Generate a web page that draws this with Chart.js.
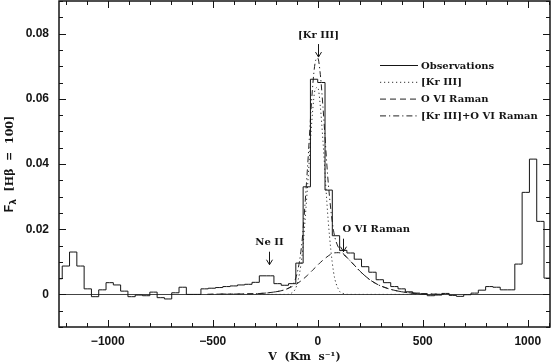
<!DOCTYPE html>
<html><head><meta charset="utf-8">
<script src="https://cdn.jsdelivr.net/npm/chart.js@4.4.0/dist/chart.umd.min.js"></script>
<style>html,body{margin:0;padding:0;background:#fff;overflow:hidden;}</style>
</head><body>
<canvas id="c" width="551" height="364"></canvas>
<script>
// ---------- data ----------
const obsVelocity = [-1268.8,-1234.0,-1199.2,-1164.5,-1129.7,-1094.9,-1060.2,-1025.4,-990.7,-955.9,-921.1,-886.4,-851.6,-816.9,-782.1,-747.3,-712.6,-677.8,-643.1,-608.3,-573.5,-538.8,-504.0,-469.3,-434.5,-399.7,-365.0,-330.2,-295.5,-260.7,-225.9,-191.2,-156.4,-121.7,-86.9,-52.1,-17.4,17.4,52.1,86.9,121.7,156.4,191.2,225.9,260.7,295.5,330.2,365.0,399.7,434.5,469.3,504.0,538.8,573.5,608.3,643.1,677.8,712.6,747.3,782.1,816.9,851.6,886.4,921.1,955.9,990.7,1025.4,1060.2,1094.9,1129.7];
const obsFlux = [0.0048,0.0048,0.0087,0.0130,0.0087,0.0017,-0.0007,0.0014,0.0036,0.0029,0.0010,-0.0007,-0.0002,-0.0004,0.0007,-0.0010,-0.0014,0.0005,0.0022,0.0000,0.0000,0.0017,0.0019,0.0021,0.0024,0.0026,0.0029,0.0031,0.0037,0.0057,0.0057,0.0033,0.0028,0.0033,0.0096,0.0330,0.0660,0.0650,0.0320,0.0180,0.0135,0.0127,0.0108,0.0085,0.0068,0.0045,0.0036,0.0024,0.0017,0.0008,0.0004,0.0001,-0.0004,-0.0002,0.0003,-0.0003,-0.0006,-0.0001,0.0004,0.0013,0.0024,0.0022,0.0014,0.0014,0.0093,0.0313,0.0415,0.0224,0.0050,0.0050];

const modelVelocity = [-525,-500,-450,-400,-350,-300,-250,-200,-175,-150,-125,-100,-75,-50,-25,-12.5,0,12.5,25,50,75,100,125,150,175,200,225,250,275,300,350,400,450,500,550,600];
const krIIIFlux = [0,0,0,0,0,0,0,0,0,0,0.0004,0.0028,0.0117,0.0318,0.0557,0.0628,0.0635,0.0576,0.0469,0.0225,0.0070,0.0014,0.0002,0,0,0,0,0,0,0,0,0,0,0,0,0];
const ovRamanFlux = [0,0.00005,0.0001,0.0001,0.00015,0.0002,0.0004,0.0008,0.0011,0.0016,0.0023,0.0032,0.0044,0.0058,0.0074,0.0082,0.0090,0.0098,0.0105,0.0118,0.0127,0.0128,0.0121,0.0106,0.0089,0.0072,0.0057,0.0044,0.0034,0.0026,0.0015,0.0008,0.0004,0.0002,0.0001,0];
const combinedFlux = [0,0.00005,0.0001,0.0001,0.00015,0.0002,0.0004,0.0008,0.0011,0.0016,0.0027,0.0060,0.0161,0.0376,0.0631,0.0710,0.0725,0.0674,0.0574,0.0343,0.0197,0.0142,0.0123,0.0106,0.0089,0.0072,0.0057,0.0044,0.0034,0.0026,0.0015,0.0008,0.0004,0.0002,0.0001,0];

const seriesLabels = ['Observations','[Kr III]','O VI Raman','[Kr III]+O VI Raman'];
const xTickValues = [-1000,-500,0,500,1000];
const xTickLabels = ['\u22121000','\u2212500','0','500','1000'];
const yTickValues = [0,0.02,0.04,0.06,0.08];
const yTickLabels = ['0','0.02','0.04','0.06','0.08'];
const xRange = [-1232,1106];
const yRange = [-0.01,0.09];
const xMinorStep = 100, yMinorStep = 0.005;
const annotLabels = ['[Kr III]','Ne II','O VI Raman'];
const annotVelocity = [0,-232,120];
const annotFlux = [0.0728,0.0091,0.0131];

// ---------- styles ----------
const INK = '#151515';
const annotAlign = ['center','center','left'];
const serifBold = 'bold 10px "DejaVu Serif"';

function pts(xs, ys){ return xs.map((v,i)=>({x:v,y:ys[i]})); }

const decorPlugin = {
  id:'decor',
  afterDatasetsDraw(chart){
    const {ctx, chartArea:a, scales:{x,y}} = chart;
    ctx.save();
    ctx.strokeStyle = INK; ctx.lineWidth = 1;
    const L = (x1,y1,x2,y2)=>{ctx.beginPath();ctx.moveTo(x1,y1);ctx.lineTo(x2,y2);ctx.stroke();};
    // x ticks (inward, bottom & top)
    for (let v = Math.ceil(xRange[0]/xMinorStep)*xMinorStep; v <= xRange[1]; v += xMinorStep){
      const px = Math.round(x.getPixelForValue(v))+0.5;
      const len = (v % 500 === 0) ? 7 : 4;
      L(px,a.bottom,px,a.bottom-len); L(px,a.top,px,a.top+len);
    }
    // y ticks (inward, left & right)
    for (let k = Math.ceil(yRange[0]/yMinorStep); k*yMinorStep <= yRange[1]+1e-9; k++){
      const py = Math.round(y.getPixelForValue(k*yMinorStep))+0.5;
      const len = (k % 4 === 0) ? 7 : 4;
      L(a.left,py,a.left+len,py); L(a.right,py,a.right-len,py);
    }
    // frame
    ctx.lineWidth = 1.5;
    ctx.strokeRect(a.left, a.top, a.right-a.left, a.bottom-a.top);

    // legend
    ctx.lineWidth = 1;
    ctx.font = serifBold; ctx.fillStyle = INK; ctx.textBaseline = 'middle'; ctx.textAlign = 'left';
    chart.data.datasets.forEach((ds,i)=>{
      const ly = 65.5 + i*16.8;
      ctx.setLineDash(ds.borderDash || []);
      ctx.strokeStyle = ds.borderColor;
      L(380, ly, 418, ly);
      ctx.setLineDash([]);
      ctx.fillText(ds.label, 421, ly+0.5);
    });

    // annotations with arrows
    ctx.strokeStyle = INK; ctx.lineWidth = 1;
    annotLabels.forEach((t,i)=>{
      const ax = Math.round(x.getPixelForValue(annotVelocity[i]))+0.5;
      const ay = y.getPixelForValue(annotFlux[i]);
      L(ax, ay-13, ax, ay);
      L(ax-3, ay-5, ax, ay); L(ax+3, ay-5, ax, ay);
      ctx.textAlign = annotAlign[i];
      ctx.fillText(t, annotAlign[i]==='left' ? ax-1 : ax, ay-22);
    });

    // y axis title with subscript lambda
    ctx.save();
    const midY = (a.top + a.bottom)/2;
    ctx.translate(13, midY); ctx.rotate(-Math.PI/2);
    ctx.textBaseline = 'alphabetic'; ctx.textAlign = 'left';
    const f1 = 'bold 12px "Liberation Sans"', f2 = 'bold 9px "DejaVu Sans"', f3 = 'bold 11px "DejaVu Serif"';
    const s1 = 'F', s2 = '\u03bb', s3 = '  [H\u03b2  =  100]';
    ctx.font = f1; const w1 = ctx.measureText(s1).width;
    ctx.font = f2; const w2 = ctx.measureText(s2).width;
    ctx.font = f3; const w3 = ctx.measureText(s3).width;
    let cx = -(w1+w2+w3)/2;
    ctx.font = f1; ctx.fillText(s1, cx, 0); cx += w1;
    ctx.font = f2; ctx.fillText(s2, cx, 3); cx += w2;
    ctx.font = f3; ctx.fillText(s3, cx, 0);
    ctx.restore();
    ctx.restore();
  }
};

new Chart(document.getElementById('c'), {
  type:'line',
  data:{datasets:[
    {label:seriesLabels[0], data:pts(obsVelocity,obsFlux), stepped:'middle', borderColor:INK, borderWidth:1, pointRadius:0, fill:false},
    {label:seriesLabels[1], data:pts(modelVelocity,krIIIFlux), borderColor:'#333', borderWidth:1, borderDash:[1.2,2.8], pointRadius:0, cubicInterpolationMode:'monotone', fill:false},
    {label:seriesLabels[2], data:pts(modelVelocity,ovRamanFlux), borderColor:'#222', borderWidth:1, borderDash:[6,4], pointRadius:0, cubicInterpolationMode:'monotone', fill:false},
    {label:seriesLabels[3], data:pts(modelVelocity,combinedFlux), borderColor:'#222', borderWidth:1, borderDash:[6,3,1.2,3], pointRadius:0, cubicInterpolationMode:'monotone', fill:false}
  ]},
  options:{
    responsive:false, animation:false, devicePixelRatio:1,
    layout:{padding:{top:1,right:1,left:0,bottom:0}},
    plugins:{legend:{display:false}, tooltip:{enabled:false}},
    scales:{
      x:{type:'linear', min:xRange[0], max:xRange[1],
         afterBuildTicks:s=>{s.ticks = xTickValues.map(v=>({value:v}));},
         afterFit:s=>{s.height = 37; s.paddingLeft = 0; s.paddingRight = 0;},
         ticks:{callback:(v,i)=>xTickLabels[i], font:{family:'Liberation Sans',size:12,weight:'bold'}, color:INK, padding:7, maxRotation:0, autoSkip:false},
         grid:{display:false, drawTicks:false}, border:{display:false},
         title:{display:true, text:'V  (Km  s\u207B\u00B9)', font:{family:'DejaVu Serif',size:11,weight:'bold'}, color:INK, padding:{top:0,bottom:0}}},
      y:{type:'linear', min:yRange[0], max:yRange[1],
         afterBuildTicks:s=>{s.ticks = yTickValues.map(v=>({value:v}));},
         afterFit:s=>{s.width = 59; s.paddingTop = 0; s.paddingBottom = 0;},
         ticks:{callback:(v,i)=>yTickLabels[i], font:{family:'Liberation Sans',size:12,weight:'bold'}, color:INK, padding:10, autoSkip:false},
         grid:{color:c=>(c.tick && c.tick.value===0) ? '#444' : 'rgba(0,0,0,0)', lineWidth:1, drawTicks:false}, border:{display:false}}
    }
  },
  plugins:[decorPlugin]
});
</script>
</body></html>
